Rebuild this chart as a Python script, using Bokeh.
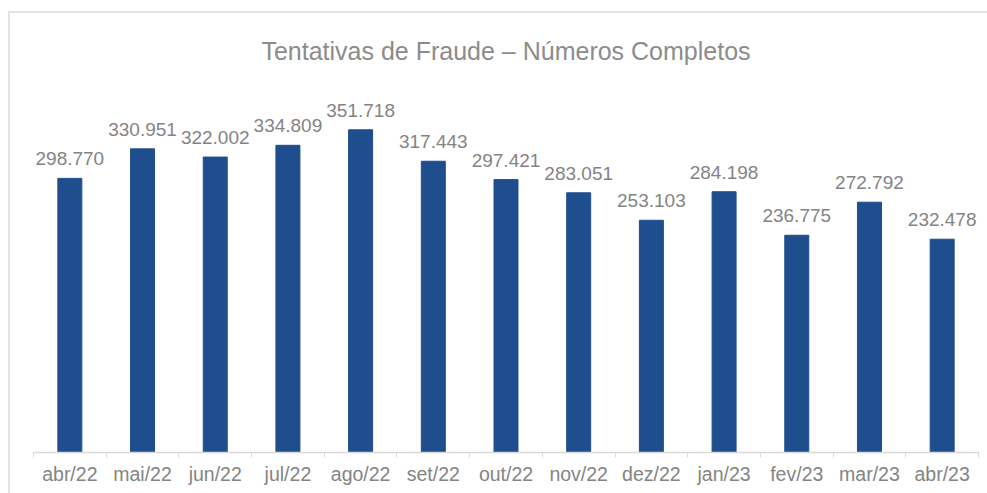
from bokeh.plotting import figure
from bokeh.models import ColumnDataSource, LabelSet, FixedTicker, Range1d
from bokeh.core.properties import value
from bokeh.embed import file_html
from bokeh.resources import INLINE

months = ["abr/22", "mai/22", "jun/22", "jul/22", "ago/22", "set/22", "out/22",
          "nov/22", "dez/22", "jan/23", "fev/23", "mar/23", "abr/23"]
values = [298770, 330951, 322002, 334809, 351718, 317443, 297421,
          283051, 253103, 284198, 236775, 272792, 232478]
title_text = "Tentativas de Fraude – Números Completos"

BAR = "#1f4e8f"
GRAY = "#848484"
FONT = "Liberation Sans"

xs = [i + 0.5 for i in range(len(months))]
labels = [f"{v:,}".replace(",", ".") for v in values]
src = ColumnDataSource(dict(x=xs, top=values, label=labels))

p = figure(width=979, height=482, output_backend="svg", toolbar_location=None,
           x_range=Range1d(0, len(months)), y_range=Range1d(0, 400000),
           min_border_left=23, min_border_right=11, min_border_top=72,
           min_border_bottom=43, title=title_text)
p.styles = {"border-top": "2px solid #e4e4e4", "border-left": "2px solid #e4e4e4",
            "margin-top": "11px", "margin-left": "8px", "box-sizing": "border-box"}
p.outline_line_color = None
p.background_fill_color = "white"
p.border_fill_color = "white"
p.grid.visible = False
p.yaxis.visible = False

p.title.align = "center"
p.title.text_font = FONT
p.title.text_font_size = "25px"
p.title.text_font_style = "normal"
p.title.text_color = "#8c8c8c"
p.title.standoff = 42

p.vbar(x="x", top="top", width=0.33, source=src, color=BAR)

ax = p.xaxis[0]
ax.ticker = FixedTicker(ticks=xs, minor_ticks=list(range(len(months) + 1)))
ax.major_label_overrides = {x: m for x, m in zip(xs, months)}
ax.major_tick_line_color = None
ax.major_tick_out = 0
ax.major_tick_in = 0
ax.minor_tick_line_color = "#d9d9d9"
ax.minor_tick_out = 5
ax.minor_tick_in = 0
ax.axis_line_color = "#d9d9d9"
ax.axis_line_width = 1.5
ax.major_label_text_font = FONT
ax.major_label_text_font_size = "19.5px"
ax.major_label_text_color = GRAY
ax.major_label_standoff = 5

lbl = LabelSet(x="x", y="top", text="label", source=src, y_offset=13,
               text_align="center", text_baseline="alphabetic",
               text_font=value(FONT), text_font_size=value("19px"),
               text_color=GRAY)
p.add_layout(lbl)

open("out.html", "w").write(file_html(p, INLINE))
